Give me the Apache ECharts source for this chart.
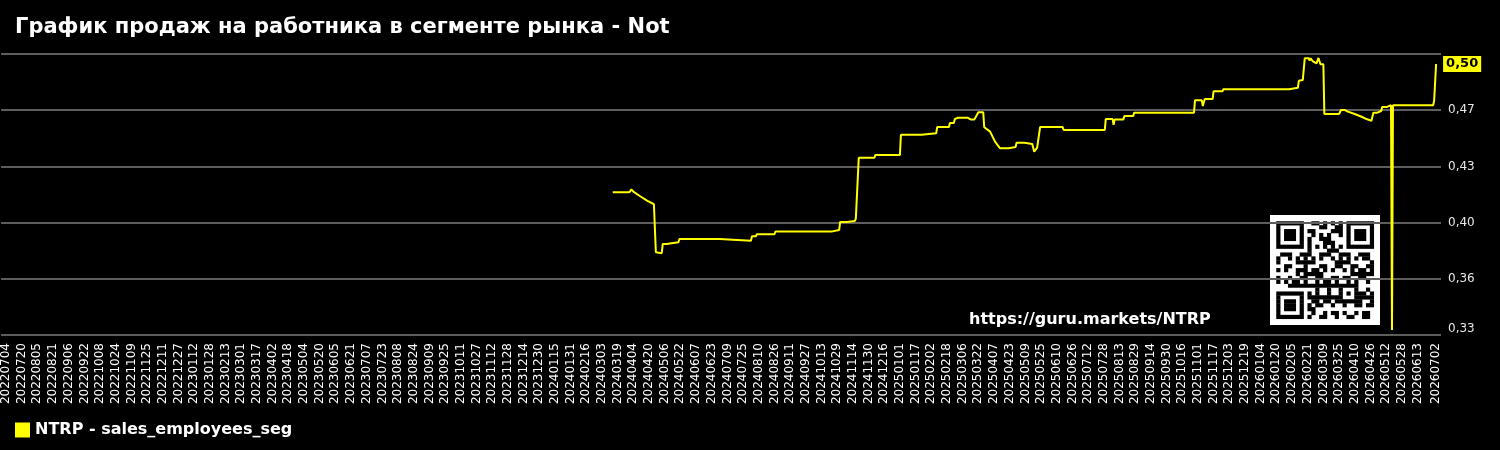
<!DOCTYPE html>
<html>
<head>
  <meta http-equiv="Content-Type" content="text/html; charset=UTF-8">
  <script src="https://cdn.jsdelivr.net/npm/echarts@6/dist/echarts.min.js"></script>
  <style>
    html, body { margin: 0; padding: 0; background: #000; }
    #div_chart { width: 1500px; height: 450px; }
  </style>
</head>
<body>
<div id="div_chart"></div>
<script>
  // period shown on the x axis (daily categories)
  var firstDay = '20220629';
  var lastDay = '20260707';
  var firstLabel = '20220704';
  var lastLabel = '20260702';

  // readings of the NTRP line (date, value)
  var pointDates = [
    '20240314','20240331','20240402','20240404','20240411','20240418','20240425','20240426',
    '20240427','20240428','20240503','20240504','20240508','20240509','20240520','20240521',
    '20240701','20240702','20240802','20240803','20240807','20240808','20240826','20240827',
    '20241023','20241024','20241031','20241101','20241108','20241109','20241116','20241117',
    '20241119','20241120','20241206','20241207','20250101','20250102','20250123','20250124',
    '20250207','20250208','20250220','20250221','20250225','20250226','20250301','20250311',
    '20250312','20250314','20250318','20250322','20250327','20250328','20250330','20250403',
    '20250408','20250413','20250422','20250423','20250429','20250430','20250508','20250510',
    '20250516','20250518','20250519','20250521','20250523','20250524','20250616','20250617',
    '20250729','20250730','20250806','20250807','20250808','20250817','20250818','20250827',
    '20250828','20251028','20251029','20251105','20251106','20251108','20251116','20251117',
    '20251126','20251127','20260202','20260203','20260211','20260212','20260216','20260218',
    '20260222','20260223','20260224','20260226','20260302','20260303','20260304','20260306',
    '20260309','20260310','20260325','20260327','20260331','20260403','20260410','20260417',
    '20260422','20260427','20260428','20260429','20260503','20260504','20260507','20260508',
    '20260513','20260514','20260517','20260518','20260519','20260629','20260630','20260701',
    '20260702'
  ];
  var pointValues = [
    0.4176,0.4176,0.4194,0.4180,0.4152,0.4125,0.4103,0.4094,
    0.3810,0.3804,0.3804,0.3860,0.3860,0.3871,0.3871,0.3891,
    0.3891,0.3880,0.3880,0.3907,0.3907,0.3920,0.3920,0.3936,
    0.3936,0.3946,0.3946,0.3995,0.3995,0.4001,0.4001,0.4015,
    0.4015,0.4387,0.4387,0.4404,0.4404,0.4527,0.4527,0.4536,
    0.4536,0.4574,0.4574,0.4599,0.4599,0.4623,0.4631,0.4631,
    0.4643,0.4621,0.4621,0.4664,0.4664,0.4573,0.4582,0.4546,
    0.4485,0.4445,0.4445,0.4452,0.4452,0.4479,0.4479,0.4471,
    0.4471,0.4424,0.4424,0.4448,0.4448,0.4574,0.4574,0.4556,
    0.4556,0.4623,0.4623,0.4587,0.4621,0.4621,0.4642,0.4642,
    0.4662,0.4662,0.4737,0.4737,0.4702,0.4745,0.4745,0.4792,
    0.4792,0.4805,0.4805,0.4814,0.4814,0.4857,0.4861,0.4994,
    0.4994,0.4980,0.4994,0.4977,0.4963,0.4963,0.4996,0.4957,
    0.4957,0.4654,0.4654,0.4678,0.4678,0.4668,0.4654,0.4637,
    0.4623,0.4613,0.4613,0.4662,0.4662,0.4672,0.4672,0.4697,
    0.4697,0.4707,0.4707,0.3336,0.4707,0.4707,0.4735,0.4735,
    0.4959
  ];

  var seriesName = 'NTRP - sales_employees_seg';
  var titleText = 'График продаж на работника в сегменте рынка - Not';
  var siteText = 'https://guru.markets/NTRP';

  function ymd(d) {
    var m = d.getUTCMonth() + 1, dd = d.getUTCDate();
    return d.getUTCFullYear() + (m < 10 ? '0' : '') + m + (dd < 10 ? '0' : '') + dd;
  }
  function parseYmd(s) {
    return new Date(Date.UTC(+s.substr(0, 4), +s.substr(4, 2) - 1, +s.substr(6, 2)));
  }

  var categories = [];
  for (var d = parseYmd(firstDay); ymd(d) <= lastDay; d.setUTCDate(d.getUTCDate() + 1)) {
    categories.push(ymd(d));
  }
  var idxFirstLabel = categories.indexOf(firstLabel);
  var idxLastLabel = categories.indexOf(lastLabel);

  var lineData = pointDates.map(function (dt, i) { return [dt, pointValues[i]]; });

  function fmt(v) { return v.toFixed(2).replace('.', ','); }

  // qr-like badge
  function qrBadge(x0, y0) {
    var n = 25, s = 3.9, pad = 6.25;
    var m = [];
    for (var r = 0; r < n; r++) {
      m.push([]);
      for (var c = 0; c < n; c++) {
        var h = ((r * 73 + c * 151 + r * c * 7 + 11) * 2654435761) >>> 0;
        m[r].push(((h >>> 13) & 3) < 2 ? 1 : 0);
      }
    }
    function finder(r0, c0) {
      for (var r = -1; r < 8; r++) for (var c = -1; c < 8; c++) {
        var rr = r0 + r, cc = c0 + c;
        if (rr < 0 || cc < 0 || rr >= n || cc >= n) continue;
        var on = (r >= 0 && r <= 6 && c >= 0 && c <= 6) &&
          (r === 0 || r === 6 || c === 0 || c === 6 || (r >= 2 && r <= 4 && c >= 2 && c <= 4));
        m[rr][cc] = on ? 1 : 0;
      }
    }
    finder(0, 0); finder(0, n - 7); finder(n - 7, 0);
    for (var r = 16; r <= 20; r++) for (var c = 16; c <= 20; c++) {
      m[r][c] = (r === 16 || r === 20 || c === 16 || c === 20 || (r === 18 && c === 18)) ? 1 : 0;
    }
    for (var k = 8; k < n - 8; k++) { m[6][k] = k % 2 === 0 ? 1 : 0; m[k][6] = k % 2 === 0 ? 1 : 0; }
    var els = [{
      type: 'rect', shape: { x: x0, y: y0, width: n * s + 2 * pad, height: n * s + 2 * pad },
      style: { fill: '#fff' }
    }];
    for (var r = 0; r < n; r++) {
      var c = 0;
      while (c < n) {
        if (m[r][c]) {
          var c1 = c;
          while (c1 < n && m[r][c1]) c1++;
          els.push({
            type: 'rect',
            shape: { x: x0 + pad + c * s, y: y0 + pad + r * s, width: (c1 - c) * s + 0.3, height: s + 0.3 },
            style: { fill: '#000' }
          });
          c = c1;
        } else c++;
      }
    }
    return { type: 'group', z: 50, children: els };
  }

  var myChart = echarts.init(document.getElementById('div_chart'));
  var options = {
    backgroundColor: '#000',
    animation: false,
    textStyle: { fontFamily: 'DejaVu Sans' },
    title: {
      text: titleText,
      left: 10,
      top: 12,
      textStyle: { color: '#fff', fontSize: 21, fontWeight: 'bold', fontFamily: 'DejaVu Sans' }
    },
    legend: {
      data: [seriesName],
      left: 10,
      bottom: 7,
      icon: 'rect',
      itemWidth: 15,
      itemHeight: 15,
      itemGap: 10,
      textStyle: { color: '#fff', fontSize: 16, fontWeight: 'bold', fontFamily: 'DejaVu Sans' }
    },
    grid: { left: 0, right: 59, top: 54, bottom: 115, containLabel: false },
    xAxis: {
      type: 'category',
      data: categories,
      boundaryGap: false,
      axisLine: { show: false },
      axisTick: { show: false },
      splitLine: { show: false },
      axisLabel: {
        rotate: 90,
        color: '#fff',
        fontSize: 12,
        margin: 8,
        fontFamily: 'DejaVu Sans',
        interval: function (index) {
          if (index === idxLastLabel) return true;
          return index >= idxFirstLabel && (index - idxFirstLabel) % 16 === 0 && index < idxLastLabel - 8;
        }
      }
    },
    yAxis: {
      type: 'value',
      position: 'right',
      min: 0.3305,
      max: 0.502,
      interval: 0.0343,
      axisLine: { show: false },
      axisTick: { show: false },
      splitLine: { show: true, lineStyle: { color: '#5e5e5e', width: 2 } },
      axisLabel: {
        color: '#e6e6e6',
        fontSize: 12,
        margin: 7,
        showMaxLabel: false,
        verticalAlignMinLabel: 'bottom',
        fontFamily: 'DejaVu Sans',
        formatter: function (v) { return fmt(v); }
      }
    },
    graphic: [
      qrBadge(1270, 215),
      {
        type: 'text', left: 969, top: 312, z: 50,
        style: { text: siteText, fill: '#fff', font: 'bold 16px "DejaVu Sans"' }
      }
    ],
    series: [{
      name: seriesName,
      type: 'line',
      data: lineData,
      showSymbol: false,
      symbol: 'none',
      color: '#ffff00',
      lineStyle: { color: '#ffff00', width: 2 },
      endLabel: {
        show: true,
        distance: 7,
        formatter: function (p) { return fmt(p.value[1]); },
        backgroundColor: '#ffff00',
        color: '#000',
        fontWeight: 'bold',
        fontSize: 13,
        fontFamily: 'DejaVu Sans',
        padding: [2, 3, 1, 3]
      }
    }]
  };
  myChart.setOption(options);
</script>
</body>
</html>
